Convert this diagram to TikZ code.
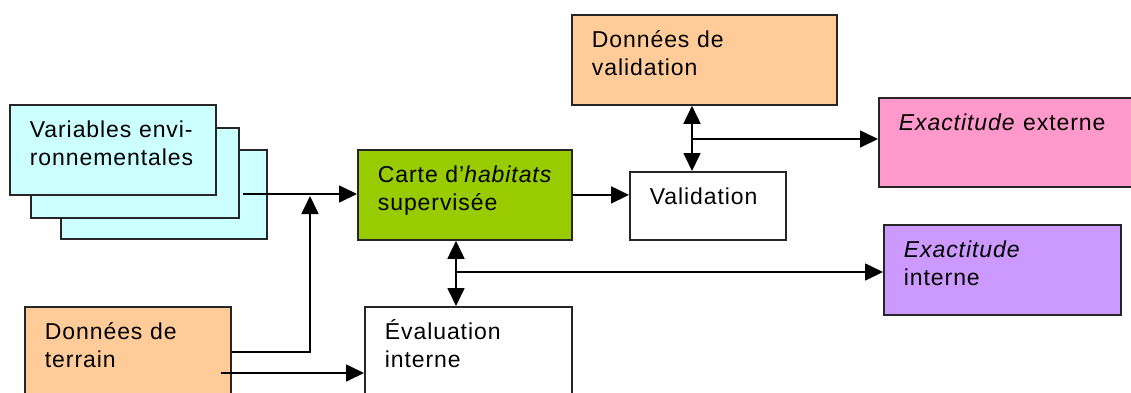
\documentclass[tikz,border=0pt]{standalone}
\usepackage{fontspec}
\setmainfont{Liberation Sans}[LetterSpace=4]
\usetikzlibrary{arrows.meta,positioning}

\definecolor{envcyan}{HTML}{CCFFFF}
\definecolor{dataorange}{HTML}{FFCC99}
\definecolor{mapgreen}{HTML}{99CC00}
\definecolor{extpink}{HTML}{FF99CC}
\definecolor{intpurple}{HTML}{CC99FF}

\begin{document}
\begin{tikzpicture}[
        x=1pt, y=-1pt,
        font=\fontsize{23}{28}\selectfont,
        >={Triangle[length=18pt,width=17pt]},
        box/.style={
            rectangle,
            draw=black!85,
            line width=1.8pt,
            anchor=north west,
            align=left,
            inner xsep=20pt,
            inner ysep=0pt,
            text height=33pt
        },
        link/.style={->, line width=1.7pt},
        both/.style={<->, line width=1.7pt},
    ]

        \fill[white] (0,0) rectangle (1131,392);
        \useasboundingbox (0,0) rectangle (1131,392);

        % stacked environmental layers
        \node[box, fill=envcyan, text width=166pt, text depth=56pt] (varback) at (60,149) {};
        \node[box, fill=envcyan, text width=168pt, text depth=57pt] (varmid) at (30,127) {};
        \node[box, fill=envcyan, text width=166pt, text depth=57pt] (var) at (9,104)
            {Variables~envi-\\ronnementales};

        \node[box, fill=mapgreen, text width=174pt, text depth=57pt] (carte) at (357,149)
            {Carte~d'\textit{habitats}\\supervisée};
        \node[box, fill=white, text width=116pt, text depth=35pt] (valid) at (629,171)
            {Validation};
        \node[box, fill=dataorange, text width=225pt, text depth=57pt] (donval) at (571,14)
            {Données~de\\validation};
        \node[box, fill=extpink, text width=220pt, text depth=56pt] (extext) at (878,97)
            {\textit{Exactitude}~externe};
        \node[box, fill=intpurple, text width=197pt, text depth=57pt] (extint) at (883,224)
            {\textit{Exactitude}\\interne};
        \node[box, fill=dataorange, text width=166pt, text depth=57pt] (terrain) at (24,306)
            {Données~de\\terrain};
        \node[box, fill=white, text width=167pt, text depth=57pt] (evalint) at (364,306)
            {Évaluation\\interne};

        % connectors
        \coordinate (varout) at (243,194);
        \coordinate (varjoin) at (310,196);
        \coordinate (terout) at (310,352);
        \coordinate (terlow) at (221,373);
        \coordinate (vjoin) at (692,139);
        \coordinate (cjoin) at (456,272);

        \draw[link] (varout) -- (varout -| carte.west);
        \draw[link] (terout -| terrain.east) -- (terout) -- (varjoin);
        \draw[link] (terlow) -- (terlow -| evalint.west);
        \draw[link] (carte.east) -- (carte.east -| valid.west);

        \draw[both] (vjoin |- donval.south) -- (vjoin |- valid.north);
        \draw[link] (vjoin) -- (vjoin -| extext.west);

        \draw[both] (cjoin |- carte.south) -- (cjoin |- evalint.north);
        \draw[link] (cjoin) -- (cjoin -| extint.west);

    \end{tikzpicture}
\end{document}
